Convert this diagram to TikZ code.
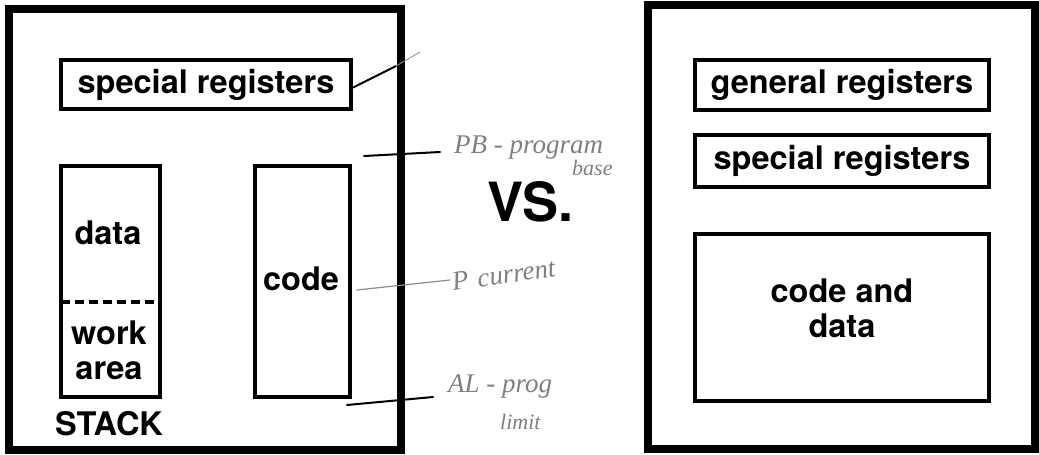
\documentclass[tikz,border=0pt]{standalone}
\usepackage{fontspec}
\setmainfont{TeX Gyre Heros}
\newfontfamily\handfont{Liberation Serif}
\begin{document}
\begin{tikzpicture}[x=1pt,y=-1pt,
  outer/.style={draw, line width=8pt, inner sep=0pt},
  regbox/.style={draw, line width=4.5pt, inner sep=0pt},
  lbl/.style={font=\bfseries\fontsize{32.5}{35}\selectfont, align=center, inner sep=0pt},
  big/.style={font=\bfseries\fontsize{54}{60}\selectfont, inner sep=0pt},
  lead/.style={line width=2pt, line cap=round},
  faint/.style={line width=0.8pt, black!45, line cap=round},
  note/.style={font=\handfont\itshape\fontsize{27}{29}\selectfont, text=black!50, inner sep=0pt}]
\useasboundingbox (0,0) rectangle (1039,455);

% ---- segmented machine ----
\node[outer, minimum width=392pt, minimum height=441pt] (segm) at (205,229.5) {};
\node[regbox, minimum width=290pt, minimum height=49pt] (sregA) at (206,84.5) {};
\node[lbl] at (sregA.center) {special registers};

\node[regbox, minimum width=99pt, minimum height=231pt] (stack) at (110.5,281.5) {};
\coordinate (dashL) at (61,302);
\coordinate (dashR) at (160,302);
\draw[line width=3.5pt, dash pattern=on 9pt off 5pt] (dashL) -- (dashR);
\node[lbl] (data) at (108,233) {data};
\node[lbl] (work) at (109,350) {work\\area};
\node[lbl] (stk) at (109,423.5) {STACK};

\node[regbox, minimum width=95pt, minimum height=231pt] (code) at (302.5,281.5) {};
\node[lbl] at (301,279) {code};

\node[big] (vs) at (530,202) {VS.};

% ---- flat machine ----
\node[outer, minimum width=387pt, minimum height=444pt] (flat) at (841.5,227) {};
\node[regbox, minimum width=294pt, minimum height=50pt] (genreg) at (842,85) {};
\node[lbl] at (genreg.center) {general registers};
\node[regbox, minimum width=294pt, minimum height=52pt] (sregB) at (842,161) {};
\node[lbl] at (sregB.center) {special registers};
\node[regbox, minimum width=294pt, minimum height=167pt] (cd) at (842,317.5) {};
\node[lbl] at ([yshift=9pt]cd.center) {code and\\data};

% ---- pencil notes ----
\coordinate (n1) at (396,66);
\coordinate (n1b) at (420,52);
\draw[lead] (sregA.east) ++(0,3) -- (n1);
\draw[faint] (n1) -- (n1b);

\coordinate (pbA) at (364,156);
\coordinate (pbB) at (440,152);
\draw[lead] (pbA) -- (pbB);
\node[note, anchor=west] (pb) at (454,148) {PB - program};
\node[note, anchor=west] at (572,168) {\fontsize{22}{24}\selectfont base};

\coordinate (pcA) at (357,290);
\coordinate (pcB) at (450,280);
\draw[faint, line width=1.2pt] (pcA) -- (pcB);
\node[note, anchor=west, rotate=8] (pc) at (452,282) {P\,\,current};

\coordinate (plA) at (347,405);
\coordinate (plB) at (433,397);
\draw[lead] (plA) -- (plB);
\node[note, anchor=west] (pl) at (448,386) {AL - prog};
\node[note, anchor=west] at (500,422) {\fontsize{22}{24}\selectfont limit};
\end{tikzpicture}
\end{document}
